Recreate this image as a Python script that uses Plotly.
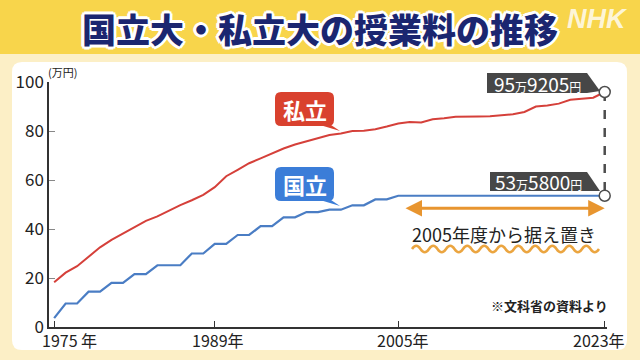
import plotly.graph_objects as go

# ---------------- data (万円) ----------------
years = list(range(1975, 2024))
national = [3.6, 9.6, 9.6, 14.4, 14.4, 18.0, 18.0, 21.6, 21.6, 25.2,
            25.2, 25.2, 30.0, 30.0, 33.96, 33.96, 37.56, 37.56, 41.16, 41.16,
            44.76, 44.76, 46.92, 46.92, 47.88, 47.88, 49.68, 49.68, 52.08, 52.08,
            53.58, 53.58, 53.58, 53.58, 53.58, 53.58, 53.58, 53.58, 53.58, 53.58,
            53.58, 53.58, 53.58, 53.58, 53.58, 53.58, 53.58, 53.58, 53.58]
private = [18.27, 22.18, 24.81, 28.66, 32.52, 35.52, 38.03, 40.63, 43.32, 45.17,
           47.53, 49.78, 51.74, 53.96, 57.06, 61.55, 64.16, 66.85, 68.80, 70.88,
           72.84, 74.47, 75.72, 77.00, 78.33, 78.97, 80.00, 80.07, 80.74, 81.80,
           83.06, 83.63, 83.48, 84.82, 85.16, 85.83, 85.78, 85.94, 86.03, 86.44,
           86.84, 87.77, 90.01, 90.41, 91.17, 92.77, 93.09, 93.60, 95.92]
x_tick_years = [1975, 1989, 2005, 2023]
x_tick_labels = ["1975 年", "1989年", "2005年", "2023年"]
x_label_shift = [15, 3, 5, -6]
y_ticks = [0, 20, 40, 60, 80, 100]
freeze_start = 2005
freeze_end = 2023

# ---------------- geometry helpers ----------------
W, H = 640, 360
L, R, T, B = 49, 33, 82, 33
PW, PH = W - L - R, H - T - B


def fx(px):
    return (px - L) / PW


def fy(py):
    return (H - B - py) / PH


def rrect(x0, y0, x1, y1, r):
    p = [
        f"M {fx(x0 + r)},{fy(y0)}",
        f"L {fx(x1 - r)},{fy(y0)}",
        f"Q {fx(x1)},{fy(y0)} {fx(x1)},{fy(y0 + r)}",
        f"L {fx(x1)},{fy(y1 - r)}",
        f"Q {fx(x1)},{fy(y1)} {fx(x1 - r)},{fy(y1)}",
        f"L {fx(x0 + r)},{fy(y1)}",
        f"Q {fx(x0)},{fy(y1)} {fx(x0)},{fy(y1 - r)}",
        f"L {fx(x0)},{fy(y0 + r)}",
        f"Q {fx(x0)},{fy(y0)} {fx(x0 + r)},{fy(y0)}",
        "Z",
    ]
    return " ".join(p)


def poly(pts):
    s = "M " + " L ".join(f"{fx(a)},{fy(b)}" for a, b in pts) + " Z"
    return s


def wave(x0, x1, yc, amp, period):
    s = f"M {fx(x0)},{fy(yc)}"
    x = x0
    up = True
    half = period / 2
    while x + half <= x1 + 0.1:
        cy = yc - amp * 2 if up else yc + amp * 2
        s += f" Q {fx(x + half / 2)},{fy(cy)} {fx(x + half)},{fy(yc)}"
        x += half
        up = not up
    return s


def label(text, px, py, size, color="#222", family=None, xanchor="center", **kw):
    return dict(text=text, xref="paper", yref="paper", x=fx(px), y=fy(py),
                xanchor=xanchor, yanchor="middle", showarrow=False,
                font=dict(family=family or FONT, size=size, color=color, **kw))


FONT = "Noto Sans CJK JP"
RED = "#D5403A"
BLUE = "#4A7DC4"
ORANGE = "#E8952F"
DARK = "#474747"

fig = go.Figure()

fig.add_trace(go.Scatter(x=years, y=private, mode="lines",
                         line=dict(color=RED, width=2), cliponaxis=False,
                         hoverinfo="skip", showlegend=False))
fig.add_trace(go.Scatter(x=years, y=national, mode="lines",
                         line=dict(color=BLUE, width=2.2), cliponaxis=False,
                         hoverinfo="skip", showlegend=False))
fig.add_trace(go.Scatter(x=[years[-1], years[-1]], y=[private[-1], national[-1]],
                         mode="lines+markers",
                         line=dict(color="#4d4d4d", width=2.5, dash="dash"),
                         marker=dict(size=11, color="white",
                                     line=dict(color="#4d4d4d", width=1.5)),
                         cliponaxis=False, hoverinfo="skip", showlegend=False))

shapes = [
    # title banner
    dict(type="rect", xref="paper", yref="paper", x0=fx(0), x1=fx(640),
         y0=fy(0), y1=fy(54), fillcolor="#F8D54B", line=dict(width=0), layer="below"),
    # white panel
    dict(type="path", xref="paper", yref="paper", path=rrect(12, 62, 627, 350, 10),
         fillcolor="#FFFFFF", line=dict(width=0), layer="below"),
    # 私立 bubble
    dict(type="path", xref="paper", yref="paper", path=rrect(275, 92, 334, 126, 6),
         fillcolor="#D9412E", line=dict(width=0), layer="below"),
    dict(type="path", xref="paper", yref="paper",
         path=poly([(320, 125), (331, 125), (340, 131)]),
         fillcolor="#D9412E", line=dict(width=0), layer="below"),
    # 国立 bubble
    dict(type="path", xref="paper", yref="paper", path=rrect(275, 167, 334, 201, 6),
         fillcolor="#3B7DD8", line=dict(width=0), layer="below"),
    dict(type="path", xref="paper", yref="paper",
         path=poly([(320, 200), (331, 200), (340, 206)]),
         fillcolor="#3B7DD8", line=dict(width=0), layer="below"),
    # value label boxes
    dict(type="path", xref="paper", yref="paper",
         path=poly([(487, 73), (587, 73), (600, 91), (587, 93), (487, 93)]),
         fillcolor=DARK, line=dict(width=0), layer="below"),
    dict(type="path", xref="paper", yref="paper",
         path=poly([(490, 172), (587, 172), (600, 191), (587, 191), (490, 191)]),
         fillcolor=DARK, line=dict(width=0), layer="below"),
    # wavy underline
    dict(type="path", xref="paper", yref="paper", path=wave(412, 600, 249, 3.2, 17),
         line=dict(color="#EBA540", width=2.5), layer="below"),
]

small = "<span style='font-size:12px'>{}</span>"
outline = ", ".join(f"{dx}px {dy}px 0 #fff" for dx, dy in
                    [(3, 0), (-3, 0), (0, 3), (0, -3), (2, 2), (-2, -2), (2, -2), (-2, 2)])
annotations = [
    label("国立大・私立大の授業料の推移", 320, 28, 34, color="#1B2670",
          weight=900, shadow=outline),
    label("<b><i>NHK</i></b>", 597, 19, 27, color="rgba(255,255,255,0.8)",
          family="Liberation Sans"),
    label("(万円)", 62, 72, 11),
    label("<b>私立</b>", 304.5, 109, 22, color="white"),
    label("<b>国立</b>", 304.5, 184, 22, color="white"),
    label("95" + small.format("万") + "9205" + small.format("円"), 537, 83, 19, color="white"),
    label("53" + small.format("万") + "5800" + small.format("円"), 538.5, 181.5, 19, color="white"),
    label("2005年度から据え置き", 504, 234, 18),
    label("<b>※文科省の資料より</b>", 610, 305, 13, xanchor="right"),
    dict(text="", x=freeze_end, y=48.5, ax=freeze_start + 0.5, ay=48.5,
         xref="x", yref="y", axref="x", ayref="y", showarrow=True,
         arrowhead=2, arrowside="end+start", arrowsize=1.1, arrowwidth=3,
         arrowcolor=ORANGE),
]
for yr, lab, sh in zip(x_tick_years, x_tick_labels, x_label_shift):
    annotations.append(dict(text=lab, x=yr, xref="x", y=0, yref="paper",
                            xanchor="center", yanchor="middle",
                            yshift=-13, xshift=sh, showarrow=False,
                            font=dict(family=FONT, size=16, color="#222")))

fig.update_layout(
    width=W, height=H,
    margin=dict(l=L, r=R, t=T, b=B, autoexpand=False),
    paper_bgcolor="#FCEFC6",
    plot_bgcolor="rgba(0,0,0,0)",
    shapes=shapes,
    annotations=annotations,
    showlegend=False,
    xaxis=dict(range=[1974.55, 2023.2], showgrid=False, zeroline=False,
               showline=True, linecolor="#333", linewidth=1.5,
               ticks="inside", tickvals=x_tick_years, ticklen=6,
               tickcolor="#333", tickwidth=1, showticklabels=False,
               automargin=False, fixedrange=True),
    yaxis=dict(range=[0, 100], showgrid=False, zeroline=False,
               showline=True, linecolor="#333", linewidth=1.5,
               ticks="inside", tickvals=y_ticks, ticklen=6, tickcolor="#888",
               tickfont=dict(family=FONT, size=17, color="#222"),
               automargin=False, fixedrange=True),
)

fig.write_html("out.html", config={"displayModeBar": False},
               post_script="document.body.style.margin='0px';document.body.style.padding='0px';")
